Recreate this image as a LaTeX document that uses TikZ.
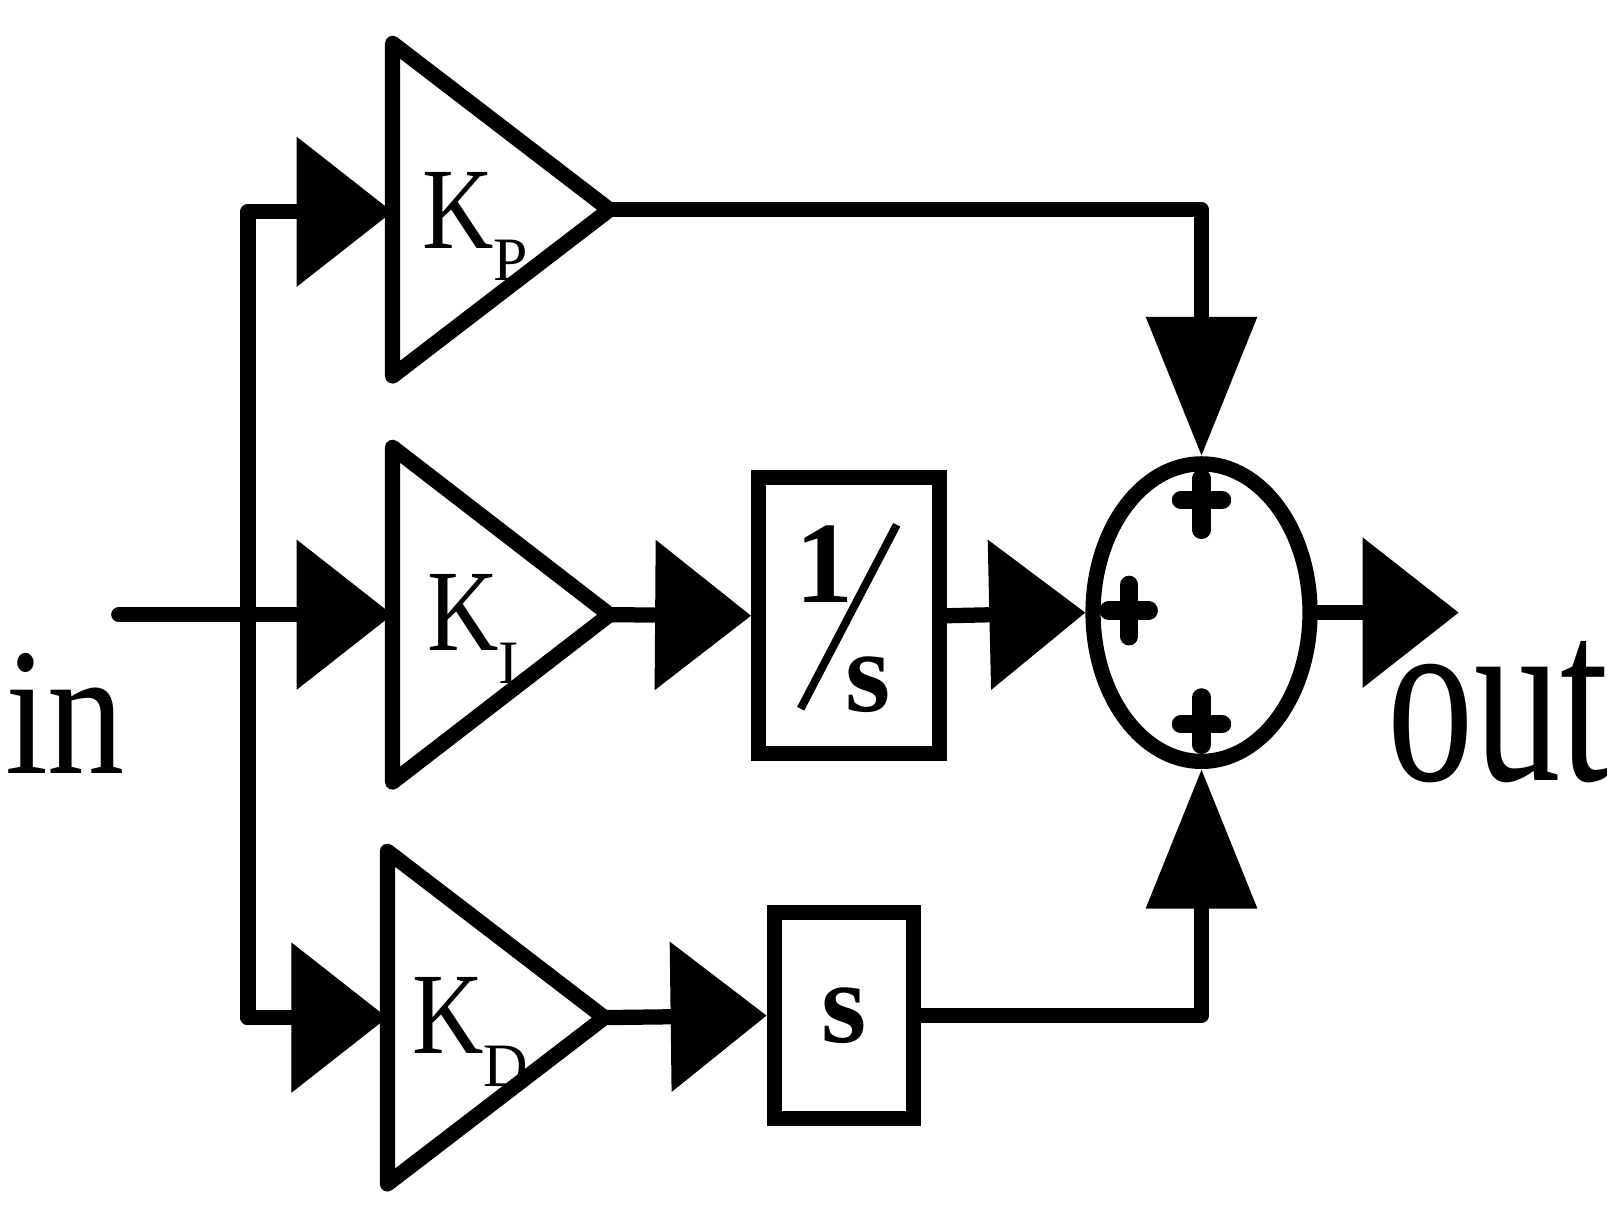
\documentclass[tikz,border=0pt]{standalone}
\usepackage{fontspec}
\setmainfont{Liberation Serif}
\usetikzlibrary{arrows.meta}
\usetikzlibrary{shapes.geometric}
\pgfdeclarelayer{edgelayer}
\pgfdeclarelayer{nodelayer}
\pgfsetlayers{edgelayer,nodelayer,main}
\tikzstyle{wire}=[line width=4.2pt,line join=round,line cap=round]
\tikzstyle{signal}=[wire,-{Triangle[length=0.93cm,width=1.42cm]}]
\tikzstyle{feed}=[wire,-{Triangle[length=1.35cm,width=1.04cm]}]
\tikzstyle{block}=[rectangle,draw=black,line width=4.2pt,inner sep=0pt]
\tikzstyle{summer}=[ellipse,draw=black,line width=4.2pt,minimum width=2.1cm,minimum height=2.88cm,inner sep=0pt]
\tikzstyle{gain}=[font=\fontsize{32}{32}\selectfont]
\newcommand{\amp}[4]{\draw [style=wire] (#1,#2) -- (#3,#4) -- (#1,{2*#4-#2}) -- cycle;}
\newcommand{\gainlabel}[1]{\scalebox{0.85}[1]{K}\raisebox{-0.28em}{\fontsize{17}{17}\selectfont #1}}
\begin{document}
\begin{tikzpicture}
	\useasboundingbox (0,0.39) rectangle (15.7,12.11);
	\begin{pgfonlayer}{nodelayer}
		\coordinate (in) at (1.15,6.16);
		\coordinate (bus) at (2.4,6.16);
		\coordinate (busP) at (2.4,10.06);
		\coordinate (busD) at (2.4,2.26);
		\coordinate (kp-in) at (3.8,10.06);
		\coordinate (ki-in) at (3.8,6.16);
		\coordinate (kd-in) at (3.75,2.26);
		\coordinate (kp-out) at (5.9,10.08);
		\coordinate (ki-out) at (5.9,6.16);
		\coordinate (kd-out) at (5.85,2.26);
		\amp{3.8}{11.69}{5.9}{10.08}
		\amp{3.8}{7.78}{5.9}{6.16}
		\amp{3.75}{3.87}{5.85}{2.26}
		\node [style=gain] (kp) at (4.6,9.92) {\gainlabel{P}};
		\node [style=gain] (ki) at (4.58,6.02) {\gainlabel{I}};
		\node [style=gain] (kd) at (4.55,2.12) {\gainlabel{D}};
		\node [style=block, minimum width=1.75cm, minimum height=2.67cm] (int) at (8.22,6.15) {};
		\node [style=gain] (one) at (7.98,6.65) {\textbf{1}};
		\node [style=gain] (ess) at (8.4,5.48) {\textbf{s}};
		\draw [line width=2.2pt] (8.68,7.03) -- (7.75,5.25);
		\node [style=block, minimum width=1.35cm, minimum height=2.0cm] (der) at (8.17,2.28) {};
		\node [style=gain] at (der) {\textbf{s}};
		\node [style=summer] (sum) at (11.63,6.18) {};
		\draw [style=wire,line width=5pt] (11.63,7.48) -- (11.63,6.98) (11.43,7.27) -- (11.83,7.27);
		\draw [style=wire,line width=5pt] (10.93,6.45) -- (10.93,5.95) (10.73,6.2) -- (11.12,6.2);
		\draw [style=wire,line width=5pt] (11.63,5.36) -- (11.63,4.9) (11.43,5.1) -- (11.83,5.1);
		\coordinate (out) at (14.12,6.18);
		\node [font=\fontsize{50}{50}\selectfont] (in-label) at (0.63,5.2) {\scalebox{0.85}[1]{in}};
		\node [font=\fontsize{68}{68}\selectfont] (out-label) at (14.5,5.22) {\scalebox{0.7}[1]{out}};
	\end{pgfonlayer}
	\begin{pgfonlayer}{edgelayer}
		\draw [style=wire] (in) -- (bus);
		\draw [style=wire] (busP) -- (busD);
		\draw [style=signal] (busP) -- (kp-in);
		\draw [style=signal] (bus) -- (ki-in);
		\draw [style=signal] (busD) -- (kd-in);
		\draw [style=signal] (ki-out) -- (int.west);
		\draw [style=signal] (int.east) -- (sum.west);
		\draw [style=signal] (kd-out) -- (der.west);
		\draw [style=feed] (kp-out) -| (sum.north);
		\draw [style=feed] (der.east) -| (sum.south);
		\draw [style=signal] (sum.east) -- (out);
	\end{pgfonlayer}
\end{tikzpicture}
\end{document}
